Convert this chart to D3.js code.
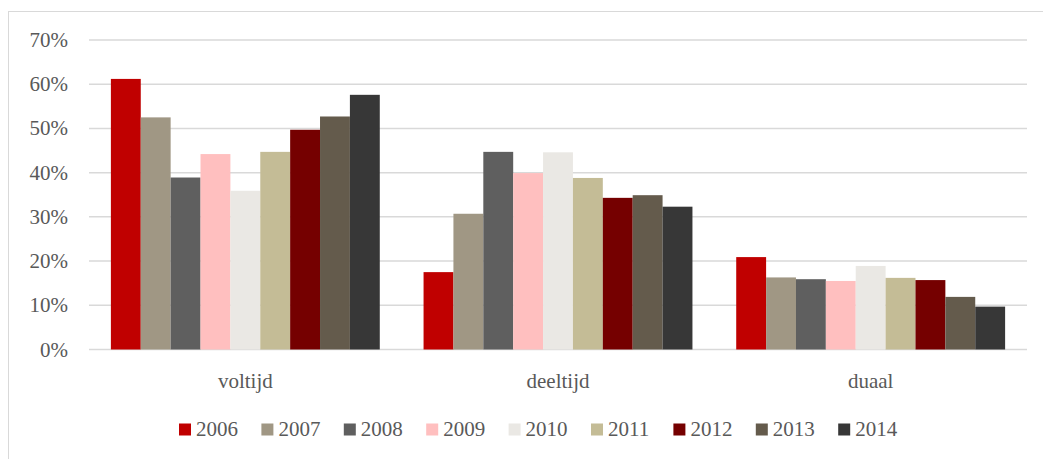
<!DOCTYPE html>
<html>
<head>
<meta charset="utf-8">
<script src="https://cdn.jsdelivr.net/npm/d3@7"></script>
<style>
  body { margin: 0; background: #fff; }
</style>
</head>
<body>
<svg id="chart" width="1043" height="459"></svg>
<script>
// categories and series
var categories = ['voltijd', 'deeltijd', 'duaal'];
var years = ['2006', '2007', '2008', '2009', '2010', '2011', '2012', '2013', '2014'];
var colors = ['#C00000', '#A09784', '#5F5F5F', '#FFBFBF', '#EAE8E4', '#C4BC96', '#750000', '#645B4C', '#373737'];

// values per year (voltijd, deeltijd, duaal), in %
var v2006 = [61.2, 17.5, 20.9];
var v2007 = [52.5, 30.7, 16.3];
var v2008 = [38.9, 44.7, 15.9];
var v2009 = [44.2, 39.9, 15.5];
var v2010 = [35.9, 44.6, 18.9];
var v2011 = [44.7, 38.8, 16.2];
var v2012 = [49.7, 34.3, 15.7];
var v2013 = [52.7, 34.9, 11.9];
var v2014 = [57.6, 32.3, 9.7];
var series = [v2006, v2007, v2008, v2009, v2010, v2011, v2012, v2013, v2014];

var yTicks = [0, 10, 20, 30, 40, 50, 60, 70];

var FONT = "'Liberation Serif', 'Times New Roman', 'DejaVu Serif', serif";

var svg = d3.select('#chart')
    .attr('font-family', FONT);

// outer frame (cut off at right/bottom like the source)
svg.append('rect')
    .attr('x', 8.5).attr('y', 11.5)
    .attr('width', 1050).attr('height', 460)
    .attr('fill', 'none')
    .attr('stroke', '#d9d9d9')
    .attr('stroke-width', 1);

var plotLeft = 89, plotRight = 1027, plotTop = 40, plotBottom = 349.5;

var x0 = d3.scaleBand().domain(categories).range([plotLeft, plotRight])
    .paddingInner(0.14).paddingOuter(0.07);
var x1 = d3.scaleBand().domain(years).range([0, x0.bandwidth()]);
var y = d3.scaleLinear().domain([0, 70]).range([plotBottom, plotTop]);

// gridlines
svg.append('g').selectAll('line')
    .data(yTicks)
    .enter().append('line')
    .attr('x1', plotLeft).attr('x2', plotRight)
    .attr('y1', function(d) { return y(d); })
    .attr('y2', function(d) { return y(d); })
    .attr('stroke', '#d9d9d9')
    .attr('stroke-width', 1.5);

// y tick labels
svg.append('g').selectAll('text')
    .data(yTicks)
    .enter().append('text')
    .attr('x', 68)
    .attr('y', function(d) { return y(d) + 7; })
    .attr('text-anchor', 'end')
    .attr('font-family', FONT)
    .attr('font-size', 21)
    .attr('fill', '#595959')
    .text(function(d) { return d + '%'; });

// bars
var groups = svg.append('g').selectAll('g')
    .data(series)
    .enter().append('g')
    .attr('fill', function(d, i) { return colors[i]; });

groups.each(function(vals, i) {
    d3.select(this).selectAll('rect')
        .data(vals)
        .enter().append('rect')
        .attr('x', function(d, j) { return x0(categories[j]) + x1(years[i]); })
        .attr('y', function(d) { return y(d); })
        .attr('width', x1.bandwidth())
        .attr('height', function(d) { return plotBottom - y(d); });
});

// category labels
svg.append('g').selectAll('text')
    .data(categories)
    .enter().append('text')
    .attr('x', function(d) { return x0(d) + x0.bandwidth() / 2; })
    .attr('y', 388)
    .attr('text-anchor', 'middle')
    .attr('font-family', FONT)
    .attr('font-size', 21)
    .attr('fill', '#595959')
    .text(function(d) { return d; });

// legend
var legend = svg.append('g').selectAll('g')
    .data(years)
    .enter().append('g')
    .attr('transform', function(d, i) { return 'translate(' + (179 + i * 82.4) + ',0)'; });

legend.append('rect')
    .attr('x', 0).attr('y', 423.5)
    .attr('width', 12).attr('height', 12)
    .attr('fill', function(d, i) { return colors[i]; });

legend.append('text')
    .attr('x', 17).attr('y', 436)
    .attr('font-family', FONT)
    .attr('font-size', 21)
    .attr('fill', '#595959')
    .text(function(d) { return d; });
</script>
</body>
</html>
